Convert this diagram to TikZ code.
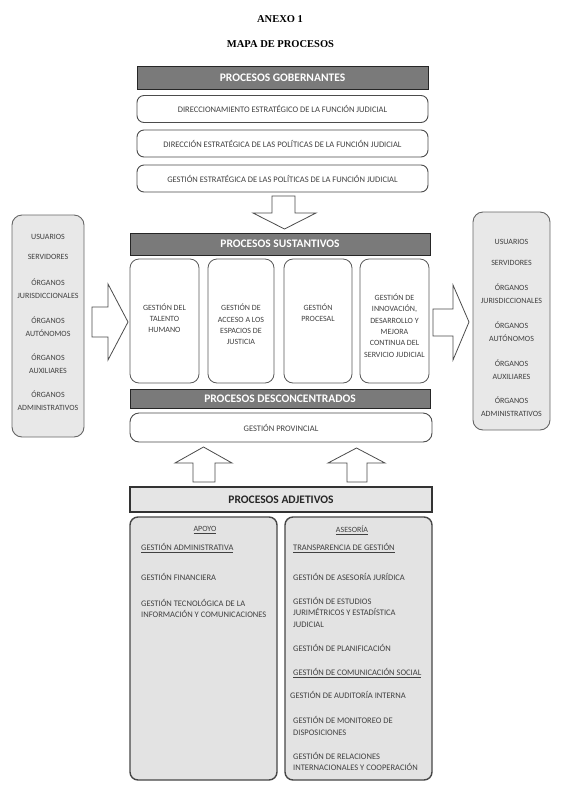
\documentclass[tikz,border=0pt]{standalone}
\usepackage{fontspec}
\setmainfont{Carlito}
\newfontfamily\serifhead{Liberation Serif}
\usetikzlibrary{positioning}

\begin{document}
\begin{tikzpicture}[
		x=1pt, y=-1pt,
		every node/.style={
			font=\fontsize{8}{11.3}\selectfont,
			text=black!75,
			inner sep=0pt,
			align=center
		},
		titletext/.style={font=\serifhead\fontsize{10.5}{12}\selectfont\bfseries, text=black},
		headbar/.style={draw=black!85, line width=1pt, fill=black!52, text=white,
			font=\fontsize{11.5}{13}\selectfont\bfseries},
		govbox/.style={draw=black!70, line width=0.9pt, rounded corners=7pt, fill=white,
			minimum width=291, minimum height=27, font=\fontsize{8.5}{10}\selectfont},
		susbox/.style={draw=black!65, line width=0.8pt, rounded corners=9pt, fill=white,
			minimum height=124},
		sidebox/.style={draw=black!60, line width=0.9pt, rounded corners=10pt, fill=black!9},
		sidetext/.style={font=\fontsize{8}{13}\selectfont},
		adjbox/.style={draw=black!72, line width=1.4pt, rounded corners=8pt, fill=black!11,
			minimum width=147, minimum height=263},
		item/.style={anchor=west, align=left, font=\fontsize{8.5}{11.5}\selectfont},
		fatarrow/.style={draw=black!70, fill=white, line width=0.8pt}
		]
		
		\useasboundingbox[fill=white] (0,0) rectangle (561,812);
		
		%--------------------------------------------------
		% Title
		%--------------------------------------------------
		
		\node[titletext] (anexo) at (280,19) {ANEXO 1};
		\node[titletext] (mapa) at (280.5,44) {MAPA DE PROCESOS};
		
		%--------------------------------------------------
		% Procesos gobernantes
		%--------------------------------------------------
		
		\node[headbar, minimum width=291, minimum height=23] (gob) at (282.5,77.5) {PROCESOS GOBERNANTES};
		\node[govbox] (gob1) at (282.5,109) {DIRECCIONAMIENTO ESTRATÉGICO DE LA FUNCIÓN JUDICIAL};
		\node[govbox] (gob2) at (282.5,143.5) {DIRECCIÓN ESTRATÉGICA DE LAS POLÍTICAS DE LA FUNCIÓN JUDICIAL};
		\node[govbox] (gob3) at (282.5,178.5) {GESTIÓN ESTRATÉGICA DE LAS POLÍTICAS DE LA FUNCIÓN JUDICIAL};
		
		\draw[fatarrow] (272,196) -- (295,196) -- (295,213) -- (316,213) -- (284.5,229)
		-- (253,213) -- (272,213) -- cycle;
		
		%--------------------------------------------------
		% Procesos sustantivos
		%--------------------------------------------------
		
		\node[headbar, minimum width=300, minimum height=22] (sus) at (280,244) {PROCESOS SUSTANTIVOS};
		
		\node[susbox, minimum width=69] (sus1) at (164.5,321) {};
		\node[susbox, minimum width=66] (sus2) at (241,321) {};
		\node[susbox, minimum width=68] (sus3) at (318,321) {};
		\node[susbox, minimum width=69] (sus4) at (394.5,321) {};
		
		\node (sus1txt) at (164.5,318) {GESTIÓN DEL\\TALENTO\\HUMANO};
		\node (sus2txt) at (241,324.5) {GESTIÓN DE\\ACCESO A LOS\\ESPACIOS DE\\JUSTICIA};
		\node (sus3txt) at (318,312.5) {GESTIÓN\\PROCESAL};
		\node (sus4txt) at (394.5,325.5) {GESTIÓN DE\\INNOVACIÓN,\\DESARROLLO Y\\MEJORA\\CONTINUA DEL\\SERVICIO JUDICIAL};
		
		%--------------------------------------------------
		% Procesos desconcentrados
		%--------------------------------------------------
		
		\node[headbar, minimum width=300, minimum height=19] (des) at (280,398.5) {PROCESOS DESCONCENTRADOS};
		\node[govbox, minimum width=302, minimum height=29, rounded corners=9pt] (prov) at (281,427.5) {GESTIÓN PROVINCIAL};
		
		%--------------------------------------------------
		% Usuarios (entrada y salida)
		%--------------------------------------------------
		
		\node[sidebox, minimum width=72, minimum height=222] (usrL) at (48,326) {};
		\node[sidetext] (usrLtxt) at (48,322.5) {USUARIOS\\[7pt]SERVIDORES\\[13pt]ÓRGANOS\\JURISDICCIONALES\\[12pt]ÓRGANOS\\AUTÓNOMOS\\[11pt]ÓRGANOS\\AUXILIARES\\[11pt]ÓRGANOS\\ADMINISTRATIVOS};
		
		\node[sidebox, minimum width=77, minimum height=218] (usrR) at (511.5,321) {};
		\node[sidetext] (usrRtxt) at (511.5,328) {USUARIOS\\[8pt]SERVIDORES\\[12pt]ÓRGANOS\\JURISDICCIONALES\\[12pt]ÓRGANOS\\AUTÓNOMOS\\[12pt]ÓRGANOS\\AUXILIARES\\[11pt]ÓRGANOS\\ADMINISTRATIVOS};
		
		\draw[fatarrow] (92,307) -- (108,307) -- (108,284) -- (128,322) -- (108,360)
		-- (108,337) -- (92,337) -- cycle;
		\draw[fatarrow] (433,309) -- (453,309) -- (453,285) -- (469,322) -- (453,360)
		-- (453,336) -- (433,336) -- cycle;
		
		%--------------------------------------------------
		% Procesos adjetivos
		%--------------------------------------------------
		
		\draw[fatarrow] (193,482) -- (193,463) -- (175,463) -- (203.5,447) -- (232,463)
		-- (215,463) -- (215,482) -- cycle;
		\draw[fatarrow] (347,482) -- (347,463) -- (328,463) -- (356.5,448) -- (385,463)
		-- (367,463) -- (367,482) -- cycle;
		
		\node[headbar, fill=black!10, draw=black!80, line width=1.4pt, text=black!85,
		minimum width=302, minimum height=25] (adj) at (281,499.5) {PROCESOS ADJETIVOS};
		
		\node[adjbox] (apoyo) at (203.5,648.5) {};
		\node[adjbox] (ases) at (358.5,648.5) {};
		
		% Apoyo
		\node (apoyoT) at (205,530) {\underline{APOYO}};
		\node[item] (gadm) at (141,548) {\underline{GESTIÓN ADMINISTRATIVA}};
		\node[item] (gfin) at (141,577) {GESTIÓN FINANCIERA};
		\node[item] (gtec) at (141,608.5) {GESTIÓN TECNOLÓGICA DE LA\\INFORMACIÓN Y COMUNICACIONES};
		
		% Asesoría
		\node (asesT) at (352,530) {\underline{ASESORÍA}};
		\node[item] (gtra) at (293,548) {\underline{TRANSPARENCIA DE GESTIÓN}};
		\node[item] (gjur) at (293,577) {GESTIÓN DE ASESORÍA JURÍDICA};
		\node[item] (gest) at (293,612) {GESTIÓN DE ESTUDIOS\\JURIMÉTRICOS Y ESTADÍSTICA\\JUDICIAL};
		\node[item] (gpla) at (293,648) {GESTIÓN DE PLANIFICACIÓN};
		\node[item] (gcom) at (293,673) {\underline{GESTIÓN DE COMUNICACIÓN SOCIAL}};
		\node[item] (gaud) at (290,695) {GESTIÓN DE AUDITORÍA INTERNA};
		\node[item] (gmon) at (293,726) {GESTIÓN DE MONITOREO DE\\DISPOSICIONES};
		\node[item] (grel) at (293,761.5) {GESTIÓN DE RELACIONES\\INTERNACIONALES Y COOPERACIÓN};
		
	\end{tikzpicture}
\end{document}
